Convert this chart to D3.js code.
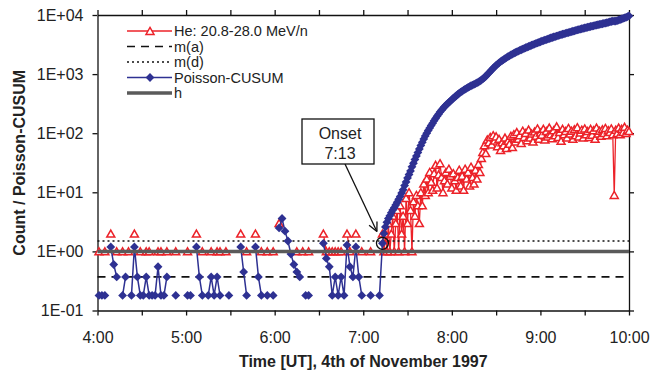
<!DOCTYPE html>
<html>
<head>
<meta charset="utf-8">
<script src="https://cdn.jsdelivr.net/npm/d3@7"></script>
<style>
    body { margin: 0; background: #fff; }
    svg text { font-family: "Liberation Sans", Arial, sans-serif; fill: #222; }
</style>
</head>
<body>
<div class="main"></div>
<script>
// before the onset: one sample every 2 minutes from 4:01 UT (minutes from 4:00)
const preStart = 1;
const preStep = 2;
// from the onset (7:13) on: one sample every minute
const postStart = 193;
const postStep = 1;

// He 20.8-28.0 MeV/n counts (0 = no count, not shown on log axis)
const heCountsPre = [
    1, 0, 1, 0, 2, 0, 1, 0, 1, 0,
    1, 0, 2, 0, 1, 0, 1, 1, 0, 0,
    1, 1, 0, 1, 0, 0, 1, 0, 0, 0,
    1, 0, 0, 2, 0, 1, 0, 0, 1, 0,
    1, 1, 0, 1, 0, 0, 0, 0, 2, 0,
    1, 0, 0, 2, 0, 1, 0, 1, 0, 1,
    0, 3, 0, 0, 0, 0, 0, 1, 0, 1,
    0, 1, 0, 0, 0, 0, 2, 1, 1, 1,
    1, 1, 1, 0, 2, 1, 0, 2, 0, 1,
    0, 0, 1, 0, 0, 0
];
const heCountsPost = [
    2, 1, 2, 1, 3, 1, 2, 4, 1, 3,
    5, 1, 6, 2, 4, 1, 8, 3, 10, 5,
    1, 7, 4, 9, 6, 3, 10, 6, 14, 9,
    17, 10, 22, 15, 11, 21, 29, 12, 20, 31,
    18, 10, 16, 22, 14, 25, 19, 12, 21, 16,
    11, 18, 24, 13, 19, 11, 25, 17, 22, 13,
    27, 18, 14, 24, 17, 30, 22, 38, 48, 62,
    46, 78, 70, 86, 64, 92, 75, 88, 60, 80,
    52, 70, 62, 84, 56, 74, 66, 90, 58, 96,
    72, 104, 80, 92, 68, 110, 86, 100, 76, 115,
    84, 98, 72, 106, 90, 120, 80, 102, 94, 118,
    78, 108, 88, 124, 96, 82, 112, 92, 130, 86,
    104, 74, 118, 96, 108, 84, 122, 98, 110, 80,
    116, 92, 126, 88, 102, 114, 84, 120, 96, 108,
    86, 118, 94, 112, 80, 124, 98, 110, 90, 116,
    100, 122, 92, 112, 104, 120, 96, 9, 114, 100,
    124, 96, 118, 104, 128, 100, 114, 108
];

// Poisson-CUSUM (0 = not shown)
const cusumPre = [
    0.18, 0.18, 0.18, 0, 1.19, 0.6, 0.37, 0, 0.18, 0.37,
    0, 0.18, 1.19, 0.37, 0.18, 0.18, 0.37, 0.18, 0.18, 0.18,
    0.55, 0.18, 0.18, 0.37, 0, 0, 0.18, 0, 0, 0,
    0.18, 0.18, 0, 1.19, 0.37, 0.18, 0, 0.18, 0.37, 0.18,
    0.37, 0.18, 0, 0, 0.18, 0, 0, 0, 1.19, 0.45,
    0.18, 0, 0, 1.19, 0.37, 0.18, 0, 0.18, 0, 0.18,
    0, 2.5, 3.6, 2.2, 1.5, 0.9, 0.6, 0.45, 0.37, 0,
    0.18, 0.18, 0, 0, 0, 0, 1.37, 0.76, 0.55, 0.18,
    0.37, 0.18, 0.37, 0.18, 1.28, 0.55, 0.37, 1.19, 0.37, 0.18,
    0, 0, 0.18, 0, 0, 0.18
];
const cusumPost = [
    1.37, 2.0, 2.6, 3.1, 3.6, 4.0, 4.5, 5.0, 5.5, 6.1,
    6.8, 7.6, 8.5, 9.7, 11, 13, 15, 17.5, 20, 23,
    27, 31, 36, 41, 47, 54, 62, 70, 80, 90,
    100, 111, 122, 135, 148, 163, 178, 194, 210, 228,
    245, 262, 280, 298, 315, 332, 350, 370, 390, 410,
    430, 452, 475, 495, 515, 535, 555, 575, 595, 615,
    635, 652, 670, 690, 710, 735, 760, 795, 830, 875,
    920, 980, 1040, 1110, 1180, 1255, 1330, 1405, 1480, 1550,
    1620, 1690, 1760, 1830, 1900, 1970, 2040, 2110, 2180, 2250,
    2320, 2385, 2450, 2515, 2580, 2650, 2720, 2790, 2860, 2930,
    3000, 3075, 3150, 3225, 3300, 3375, 3450, 3525, 3600, 3680,
    3760, 3840, 3920, 4000, 4080, 4160, 4240, 4320, 4400, 4480,
    4560, 4640, 4720, 4800, 4880, 4965, 5050, 5135, 5220, 5310,
    5400, 5490, 5580, 5670, 5760, 5850, 5940, 6030, 6120, 6210,
    6300, 6390, 6480, 6570, 6660, 6750, 6840, 6930, 7020, 7110,
    7200, 7300, 7400, 7520, 7640, 7760, 7880, 7885, 7900, 8050,
    8200, 8370, 8550, 8750, 8950, 9150, 9400, 9650
];

const mA = 0.37;   // m(a)
const mD = 1.5;    // m(d)
const hLevel = 1;  // h

const onsetMinute = 193;           // 7:13
const onsetLabel = ["Onset", "7:13"];

const yTicks = [0.1, 1, 10, 100, 1000, 10000];
const yTickLabels = ["1E-01", "1E+00", "1E+01", "1E+02", "1E+03", "1E+04"];
const xTicks = [0, 30, 60, 90, 120, 150, 180, 210, 240, 270, 300, 330, 360];
const xTickLabels = ["4:00", "", "5:00", "", "6:00", "", "7:00", "", "8:00", "", "9:00", "", "10:00"];

const legendNames = ["He: 20.8-28.0 MeV/n", "m(a)", "m(d)", "Poisson-CUSUM", "h"];

const red = "#ec2229";
const blue = "#2e3192";
const gray = "#5a5a5a";

let width = 651;
let height = 374;
let plot = { left: 97.5, right: 629, top: 15, bottom: 310.5 };

let x = d3.scaleLinear().domain([0, 360]).range([plot.left, plot.right]);
let y = d3.scaleLog().domain([0.1, 10000]).range([plot.bottom, plot.top]);

let svg = d3.select('.main')
    .append("svg")
    .attr("width", width)
    .attr("height", height);

function toSeries(pre, post) {
    return pre.map((v, i) => ({ t: preStart + i * preStep, v: v }))
        .concat(post.map((v, i) => ({ t: postStart + i * postStep, v: v })));
}
let heData = toSeries(heCountsPre, heCountsPost);
let cusumData = toSeries(cusumPre, cusumPost);

// axes
function styleAxis(g) {
    g.attr("font-size", 16).attr("font-family", '"Liberation Sans", Arial, sans-serif');
    g.selectAll("path, line").attr("stroke", "#111").attr("stroke-width", 1.3);
}

svg.append("g")
    .attr("transform", `translate(0,${plot.bottom})`)
    .call(d3.axisBottom(x).tickValues(xTicks).tickSize(5).tickSizeOuter(0).tickPadding(16)
        .tickFormat((d, i) => xTickLabels[i]))
    .call(styleAxis);

svg.append("g")
    .attr("transform", `translate(0,${plot.top})`)
    .call(d3.axisTop(x).tickValues(xTicks).tickSize(5).tickSizeOuter(0).tickFormat(""))
    .call(styleAxis);

svg.append("g")
    .attr("transform", `translate(${plot.left},0)`)
    .call(d3.axisLeft(y).tickValues(yTicks).tickSize(5).tickSizeOuter(0).tickPadding(9)
        .tickFormat((d, i) => yTickLabels[i]))
    .call(styleAxis);

svg.append("g")
    .attr("transform", `translate(${plot.right},0)`)
    .call(d3.axisRight(y).tickValues(yTicks).tickSize(5).tickSizeOuter(0).tickFormat(""))
    .call(styleAxis);

// axis titles
svg.append("text")
    .attr("x", (plot.left + plot.right) / 2)
    .attr("y", 367)
    .attr("text-anchor", "middle")
    .attr("font-size", 16)
    .attr("font-weight", "bold")
    .text("Time [UT], 4th of November 1997");

svg.append("text")
    .attr("transform", `translate(24.5,${(plot.top + plot.bottom) / 2}) rotate(-90)`)
    .attr("text-anchor", "middle")
    .attr("font-size", 16)
    .attr("font-weight", "bold")
    .text("Count / Poisson-CUSUM");

// marker shapes
const triangle = "M0,-3.6L4,3.4L-4,3.4Z";
const diamond = "M0,-4.4L4.4,0L0,4.4L-4.4,0Z";

let line = d3.line()
    .defined(d => d.v > 0)
    .x(d => x(d.t))
    .y(d => y(d.v));

// He series
svg.append("path")
    .datum(heData)
    .attr("fill", "none")
    .attr("stroke", red)
    .attr("stroke-width", 1.3)
    .attr("d", line);

svg.append("g").selectAll("path")
    .data(heData.filter(d => d.v > 0))
    .enter().append("path")
    .attr("d", triangle)
    .attr("transform", d => `translate(${x(d.t)},${y(d.v)})`)
    .attr("fill", "#fff")
    .attr("stroke", red)
    .attr("stroke-width", 1.5);

// m(a), m(d)
svg.append("line")
    .attr("x1", plot.left).attr("x2", plot.right)
    .attr("y1", y(mA)).attr("y2", y(mA))
    .attr("stroke", "#111").attr("stroke-width", 1.6)
    .attr("stroke-dasharray", "8,6");

svg.append("line")
    .attr("x1", plot.left).attr("x2", plot.right)
    .attr("y1", y(mD)).attr("y2", y(mD))
    .attr("stroke", "#111").attr("stroke-width", 1.5)
    .attr("stroke-dasharray", "2,3");

// Poisson-CUSUM series
svg.append("path")
    .datum(cusumData)
    .attr("fill", "none")
    .attr("stroke", blue)
    .attr("stroke-width", 1.5)
    .attr("d", line);

svg.append("g").selectAll("path")
    .data(cusumData.filter(d => d.v > 0))
    .enter().append("path")
    .attr("d", diamond)
    .attr("transform", d => `translate(${x(d.t)},${y(d.v)})`)
    .attr("fill", blue);

// h
svg.append("line")
    .attr("x1", plot.left).attr("x2", plot.right)
    .attr("y1", y(hLevel)).attr("y2", y(hLevel))
    .attr("stroke", gray).attr("stroke-width", 3.5);

// onset annotation
let onset = cusumData.find(d => d.t === onsetMinute);
let ox = x(onset.t), oy = y(onset.v);
let box = { x: 302, y: 119, w: 72, h: 45 };
let start = [345, box.y + box.h];
let dx = ox - start[0], dy = oy - start[1];
let len = Math.sqrt(dx * dx + dy * dy);
let ux = dx / len, uy = dy / len;
let tip = [ox - 13 * ux, oy - 13 * uy];

svg.append("line")
    .attr("x1", start[0]).attr("y1", start[1])
    .attr("x2", tip[0]).attr("y2", tip[1])
    .attr("stroke", "#111").attr("stroke-width", 1.3);

[0.45, -0.45].forEach(a => {
    let c = Math.cos(a), s = Math.sin(a);
    let bx = -ux * c + uy * s, by = -ux * s - uy * c;
    svg.append("line")
        .attr("x1", tip[0]).attr("y1", tip[1])
        .attr("x2", tip[0] + 10 * bx).attr("y2", tip[1] + 10 * by)
        .attr("stroke", "#111").attr("stroke-width", 1.3);
});

svg.append("circle")
    .attr("cx", ox).attr("cy", oy).attr("r", 6)
    .attr("fill", "none")
    .attr("stroke", "#111").attr("stroke-width", 1.3);

svg.append("rect")
    .attr("x", box.x).attr("y", box.y)
    .attr("width", box.w).attr("height", box.h)
    .attr("fill", "#fff")
    .attr("stroke", "#111").attr("stroke-width", 1.3);

svg.append("text")
    .attr("x", box.x + box.w / 2 + 2).attr("y", 138.5)
    .attr("text-anchor", "middle").attr("font-size", 16)
    .text(onsetLabel[0]);
svg.append("text")
    .attr("x", box.x + box.w / 2 + 2).attr("y", 158.5)
    .attr("text-anchor", "middle").attr("font-size", 16)
    .text(onsetLabel[1]);

// legend
let legendRows = [31, 46.5, 62, 77.5, 93];
let legend = svg.append("g");
let styles = [
    { stroke: red, width: 1.3, dash: null, marker: triangle },
    { stroke: "#111", width: 1.6, dash: "8,6", marker: null },
    { stroke: "#111", width: 1.5, dash: "2,3", marker: null },
    { stroke: blue, width: 1.5, dash: null, marker: diamond },
    { stroke: gray, width: 3.5, dash: null, marker: null }
];

legendNames.forEach((name, i) => {
    let ry = legendRows[i];
    let st = styles[i];
    legend.append("line")
        .attr("x1", 127).attr("x2", 172)
        .attr("y1", ry).attr("y2", ry)
        .attr("stroke", st.stroke)
        .attr("stroke-width", st.width)
        .attr("stroke-dasharray", st.dash);
    if (st.marker) {
        legend.append("path")
            .attr("d", st.marker)
            .attr("transform", `translate(150,${ry})`)
            .attr("fill", st.marker === triangle ? "#fff" : blue)
            .attr("stroke", st.marker === triangle ? red : "none")
            .attr("stroke-width", 1.5);
    }
    legend.append("text")
        .attr("x", 174).attr("y", ry + 5)
        .attr("font-size", 14.5)
        .text(name);
});
</script>
</body>
</html>
